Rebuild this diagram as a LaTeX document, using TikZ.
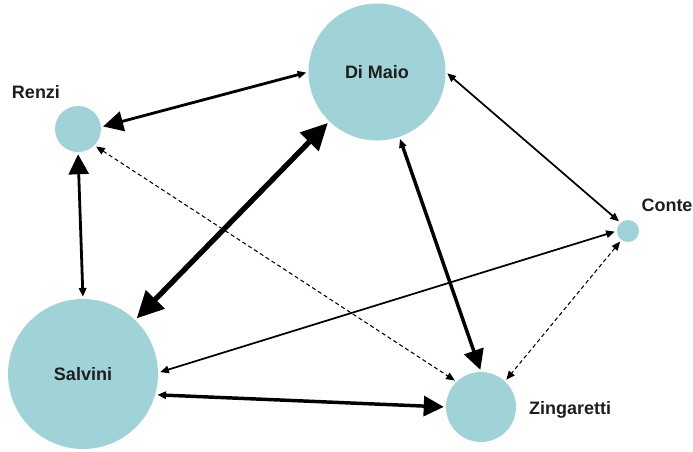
\documentclass[tikz,border=0pt]{standalone}
\usepackage{fontspec}
\setmainfont{Liberation Sans}
\usetikzlibrary{arrows.meta,positioning}
\definecolor{nodo}{RGB}{160,211,216}
\definecolor{testo}{RGB}{30,30,30}

\begin{document}
\begin{tikzpicture}[
    x=0.75pt,
    y=-0.75pt,
    piccola/.tip={Triangle[length=6.5pt,width=5.5pt]},
    grande/.tip={Triangle[length=15pt,width=15pt]},
    enorme/.tip={Triangle[length=20pt,width=19pt]},
    leader/.style={
        circle,
        fill=nodo,
        draw=none,
        inner sep=0pt,
        text=testo,
        font=\fontsize{13.5}{16}\selectfont\bfseries
    },
    nome/.style={
        text=testo,
        font=\fontsize{13.5}{16}\selectfont\bfseries
    },
    freccia/.style={
        line width=1.3pt,
        shorten >=1.5pt,
        shorten <=1.5pt
    },
    media/.style={freccia, line width=2.1pt},
    spessa/.style={freccia, line width=2.6pt},
    massima/.style={freccia, line width=4pt},
    tratteggio/.style={
        freccia,
        line width=0.8pt,
        dash pattern=on 3pt off 2.2pt
    }
]
\useasboundingbox (0,0) rectangle (693,451);

\node[leader, minimum size=102.75pt] (dimaio) at (377,72) {Di Maio};
\node[leader, minimum size=34.5pt] (renzi) at (78,129) {};
\node[leader, minimum size=16.5pt] (conte) at (628,231) {};
\node[leader, minimum size=52.5pt] (zingaretti) at (481,407) {};
\node[leader, minimum size=112.5pt] (salvini) at (83,374) {Salvini};

\node[nome] (nrenzi) at (36,92) {Renzi};
\node[nome] (nconte) at (667,205) {Conte};
\node[nome] (nzingaretti) at (570,410) {Zingaretti};

\draw[media, grande-piccola] (renzi.5) -- (dimaio.180);
\draw[media, grande-piccola] (renzi.-90) -- (salvini.90);
\draw[tratteggio, piccola-piccola] (renzi.-45) -- (zingaretti.134);

\draw[massima, enorme-enorme] (dimaio.-134) -- (salvini.46);
\draw[freccia, piccola-piccola] (dimaio.0) -- (conte.132);
\draw[spessa, piccola-grande] (dimaio.-71) -- (zingaretti.90);

\draw[freccia, piccola-piccola] (conte.180) -- (salvini.1);
\draw[tratteggio, piccola-piccola] (conte.-126) -- (zingaretti.47);

\draw[spessa, piccola-grande] (salvini.-16) -- (zingaretti.180);

\end{tikzpicture}
\end{document}
